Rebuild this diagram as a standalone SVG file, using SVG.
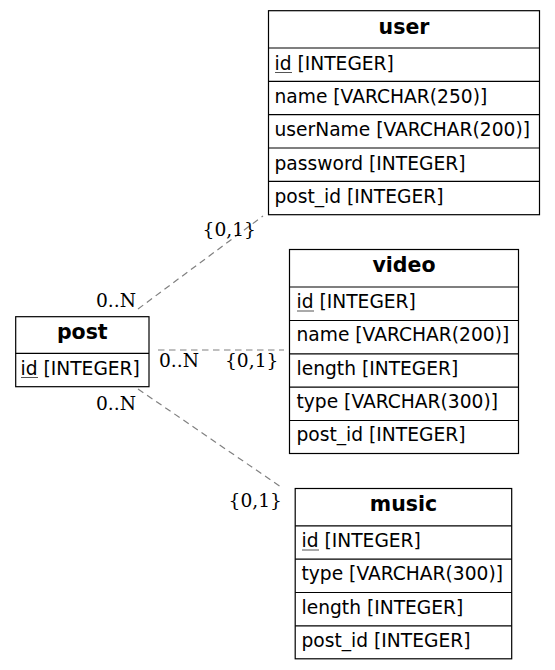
<svg xmlns="http://www.w3.org/2000/svg" width="555" height="670" viewBox="0 0 555 670">
<style>
.box{fill:#fff;stroke:#000;stroke-width:1.2}
.sep{stroke:#000;stroke-width:1.2}
.hd{font-family:"DejaVu Sans",sans-serif;font-weight:bold;font-size:20.5px;text-anchor:middle;fill:#000}
.fd{font-family:"DejaVu Sans",sans-serif;font-size:18.67px;fill:#000}
.ul{stroke:#555;stroke-width:1}
.edge{fill:none;stroke:#808080;stroke-width:1.2;stroke-dasharray:6.5,4.5}
.lb{font-family:"DejaVu Serif",serif;font-size:18.67px;fill:#000}
.e{text-anchor:end}
</style>
<rect width="555" height="670" fill="#fff"/>
<g id="edges">
<line class="edge" x1="138" y1="309" x2="263" y2="216"/>
<line class="edge" x1="158" y1="350" x2="284" y2="350"/>
<line class="edge" x1="138" y1="389" x2="281" y2="487"/>
<text class="lb e" x="256" y="236">{0,1}</text>
<text class="lb e" x="136" y="306.5">0..N</text>
<text class="lb" x="159" y="367">0..N</text>
<text class="lb" x="225" y="367">{0,1}</text>
<text class="lb e" x="136" y="410">0..N</text>
<text class="lb e" x="282" y="507">{0,1}</text>
</g>
<g id="user">
<rect class="box" x="268.5" y="10.7" width="271" height="204"/>
<line class="sep" x1="268.5" y1="48" x2="539.5" y2="48"/>
<line class="sep" x1="268.5" y1="81.3" x2="539.5" y2="81.3"/>
<line class="sep" x1="268.5" y1="114.7" x2="539.5" y2="114.7"/>
<line class="sep" x1="268.5" y1="148" x2="539.5" y2="148"/>
<line class="sep" x1="268.5" y1="181.3" x2="539.5" y2="181.3"/>
<text class="hd" x="404" y="34">user</text>
<text class="fd" x="274.5" y="69.5">id [INTEGER]</text>
<line class="ul" x1="275" y1="72.5" x2="292" y2="72.5"/>
<text class="fd" x="274.5" y="102.8">name [VARCHAR(250)]</text>
<text class="fd" x="274.5" y="136.2">userName [VARCHAR(200)]</text>
<text class="fd" x="274.5" y="169.5">password [INTEGER]</text>
<text class="fd" x="274.5" y="202.8">post_id [INTEGER]</text>
</g>
<g id="video">
<rect class="box" x="289.5" y="249.5" width="229" height="204"/>
<line class="sep" x1="289.5" y1="287" x2="518.5" y2="287"/>
<line class="sep" x1="289.5" y1="320.5" x2="518.5" y2="320.5"/>
<line class="sep" x1="289.5" y1="353.8" x2="518.5" y2="353.8"/>
<line class="sep" x1="289.5" y1="387.2" x2="518.5" y2="387.2"/>
<line class="sep" x1="289.5" y1="420.5" x2="518.5" y2="420.5"/>
<text class="hd" x="404" y="272">video</text>
<text class="fd" x="296.5" y="308">id [INTEGER]</text>
<line class="ul" x1="297" y1="311" x2="314" y2="311"/>
<text class="fd" x="296.5" y="341.3">name [VARCHAR(200)]</text>
<text class="fd" x="296.5" y="374.7">length [INTEGER]</text>
<text class="fd" x="296.5" y="408">type [VARCHAR(300)]</text>
<text class="fd" x="296.5" y="441.3">post_id [INTEGER]</text>
</g>
<g id="post">
<rect class="box" x="15.7" y="316.7" width="133.3" height="70"/>
<line class="sep" x1="15.7" y1="353.3" x2="149" y2="353.3"/>
<text class="hd" x="82.3" y="339">post</text>
<text class="fd" x="20.5" y="374.5">id [INTEGER]</text>
<line class="ul" x1="21" y1="377.5" x2="38" y2="377.5"/>
</g>
<g id="music">
<rect class="box" x="295.2" y="488.5" width="216.5" height="170.3"/>
<line class="sep" x1="295.2" y1="525.8" x2="511.7" y2="525.8"/>
<line class="sep" x1="295.2" y1="559.2" x2="511.7" y2="559.2"/>
<line class="sep" x1="295.2" y1="592.5" x2="511.7" y2="592.5"/>
<line class="sep" x1="295.2" y1="625.8" x2="511.7" y2="625.8"/>
<text class="hd" x="403.5" y="511">music</text>
<text class="fd" x="301.5" y="547">id [INTEGER]</text>
<line class="ul" x1="302" y1="550" x2="319" y2="550"/>
<text class="fd" x="301.5" y="580.3">type [VARCHAR(300)]</text>
<text class="fd" x="301.5" y="613.7">length [INTEGER]</text>
<text class="fd" x="301.5" y="647">post_id [INTEGER]</text>
</g>
</svg>
